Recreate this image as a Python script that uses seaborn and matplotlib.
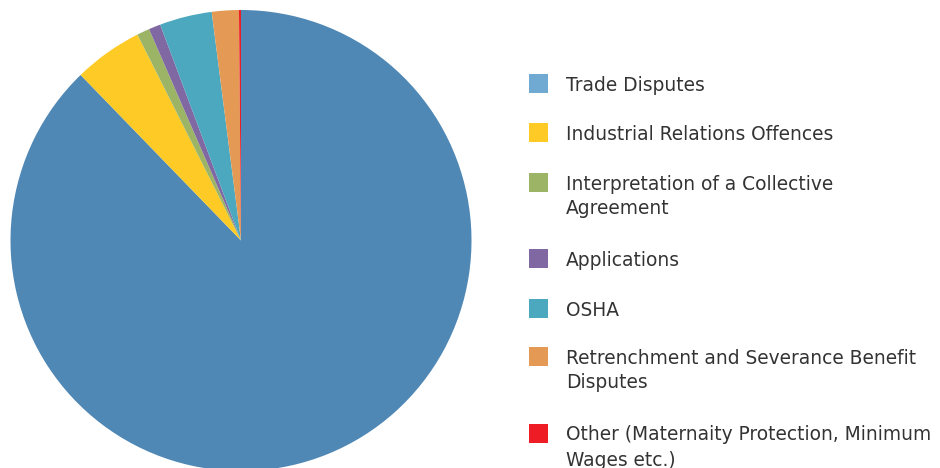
import matplotlib
matplotlib.use("Agg")
import matplotlib.pyplot as plt
import seaborn as sns
from matplotlib.patches import Rectangle

sns.set_theme(style="white")
plt.rcParams['font.family'] = ['DejaVu Sans']

categories = [
    "Trade Disputes",
    "Industrial Relations Offences",
    "Interpretation of a Collective\nAgreement",
    "Applications",
    "OSHA",
    "Retrenchment and Severance Benefit\nDisputes",
    "Other (Maternaity Protection, Minimum\nWages etc.)",
]
shares = [87.75, 4.83, 0.89, 0.83, 3.67, 1.89, 0.14]
wedge_colors = ["#4F87B5", "#FDCA26", "#9BB466", "#8068A2", "#4BA8BE", "#E49A55", "#EE1C25"]
legend_colors = ["#70A9D1", "#FDCA26", "#9BB466", "#8068A2", "#4BA8BE", "#E49A55", "#EE1C25"]

fig = plt.figure(figsize=(9.4, 4.68), dpi=100)
W, H = 940, 468
cx, cy, r = 241, 240.5, 230.5
ax = fig.add_axes([(cx - r) / W, (H - cy - r) / H, 2 * r / W, 2 * r / H])
ax.pie(shares, colors=wedge_colors, startangle=90, counterclock=False,
       radius=1, wedgeprops=dict(linewidth=0))
ax.set_xlim(-1, 1)
ax.set_ylim(-1, 1)
ax.set_aspect("equal")
ax.axis("off")

# legend layout (pixel rows)
row_y = [83.5, 132.5, 182, 258, 308.5, 356, 433]
for lab, col, y in zip(categories, legend_colors, row_y):
    fig.add_artist(Rectangle((529 / W, (H - y - 9.5) / H), 19 / W, 19 / H,
                             transform=fig.transFigure, facecolor=col, edgecolor="none"))
    for i, ln in enumerate(lab.split("\n")):
        fig.text(566 / W, (H - y - 25 * i) / H, ln, ha="left", va="center_baseline",
                 fontsize=13.4, color="#333333")

fig.savefig("out.png", dpi=100)
